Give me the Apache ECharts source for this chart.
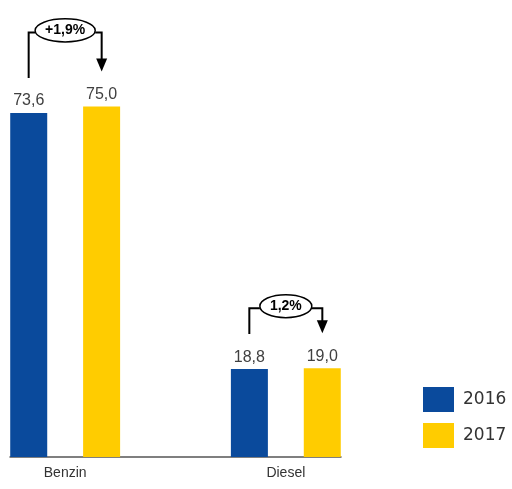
<!DOCTYPE html>
<html><head><meta charset="utf-8">
<script src="https://cdn.jsdelivr.net/npm/echarts@6/dist/echarts.min.js"></script>
<style>html,body{margin:0;padding:0;background:#fff}#c{width:512px;height:489px}</style>
</head><body><div id="c"></div>
<script>
const categories = ['Benzin', 'Diesel'];
const seriesNames = ['2016', '2017'];
const values2016 = [73.6, 18.8];
const values2017 = [75.0, 19.0];
const changeLabels = ['+1,9%', '1,2%'];

const BLUE = '#0A4A9C', YELLOW = '#FFCC00';
// spacer slot between the two groups
const axisCats = [categories[0], '', categories[1]];
const slotIdx = [0, 2];
const toSlots = arr => [arr[0], null, arr[1]];
const fmt = p => p.value == null ? '' : p.value.toFixed(1).replace('.', ',');

const chart = echarts.init(document.getElementById('c'));
const labelStyle = { show: true, position: 'top', distance: 4, formatter: fmt,
  color: '#404040', fontSize: 16, fontFamily: 'Liberation Sans, Arial' };
chart.setOption({
  animation: false,
  grid: { left: 10, right: 171, top: 83, bottom: 32 },
  legend: { orient: 'vertical', left: 418, top: 382, itemWidth: 31, itemHeight: 25, itemGap: 11,
    icon: 'rect', data: seriesNames,
    textStyle: { fontSize: 17, fontFamily: 'DejaVu Sans', color: '#333', padding: [0, 0, 0, 4] } },
  xAxis: { type: 'category', data: axisCats, axisTick: { show: false },
    axisLine: { lineStyle: { color: '#555', width: 1.5 } },
    axisLabel: { color: '#333', fontSize: 14, fontFamily: 'Liberation Sans, Arial', margin: 9 } },
  yAxis: { type: 'value', min: 0, max: 80, show: false, splitLine: { show: false } },
  series: [
    { name: seriesNames[0], type: 'bar', data: toSlots(values2016), barWidth: 37, barGap: '97%',
      itemStyle: { color: BLUE }, label: labelStyle },
    { name: seriesNames[1], type: 'bar', data: toSlots(values2017), barWidth: 37,
      itemStyle: { color: YELLOW }, label: labelStyle }
  ]
});

// change-annotation brackets computed from the axis scales
const halfOffset = 36.5;      // half of (bar width + bar gap)
const lineGap = 35;           // distance of bracket ends above bar tops
const bracketRise = [74, 60]; // bracket top above the higher bar
const ctx = document.createElement('canvas').getContext('2d');
const labelFont = 'bold 14px Liberation Sans, Arial';
ctx.font = labelFont;
const graphics = [];
categories.forEach((c, i) => {
  const idx = slotIdx[i];
  const p1 = chart.convertToPixel({ gridIndex: 0 }, [idx, values2016[i]]);
  const p2 = chart.convertToPixel({ gridIndex: 0 }, [idx, values2017[i]]);
  const cx = p1[0];
  const xl = cx - halfOffset, xr = cx + halfOffset;
  const yl = p1[1] - lineGap, yr = p2[1] - lineGap;
  const top = Math.min(p1[1], p2[1]) - bracketRise[i];
  const tw = ctx.measureText(changeLabels[i]).width;
  const rx = tw / 2 + 10, ry = 11.5;
  const ls = { stroke: '#000', lineWidth: 2, fill: null };
  graphics.push({ type: 'polyline', shape: { points: [[xl, yl], [xl, top], [cx - rx, top]] }, style: ls, z: 10 });
  graphics.push({ type: 'polyline', shape: { points: [[cx + rx, top], [xr, top], [xr, yr - 12]] }, style: ls, z: 10 });
  graphics.push({ type: 'polygon', shape: { points: [[xr - 5.5, yr - 13], [xr + 5.5, yr - 13], [xr, yr]] }, style: { fill: '#000' }, z: 10 });
  graphics.push({ type: 'ellipse', shape: { cx: cx, cy: top - 2, rx: rx, ry: ry }, style: { fill: '#fff', stroke: '#000', lineWidth: 1.5 }, z: 11 });
  graphics.push({ type: 'text', x: cx, y: top - 2, style: { text: changeLabels[i], font: labelFont, fill: '#000', align: 'center', verticalAlign: 'middle' }, z: 12 });
});
chart.setOption({ graphic: graphics });
</script></body></html>
